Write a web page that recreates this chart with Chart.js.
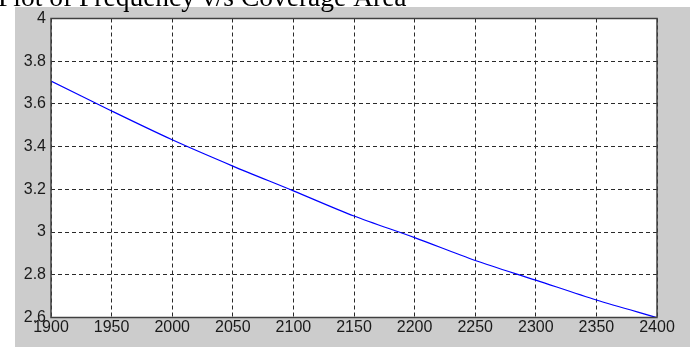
<!DOCTYPE html>
<html>
<head>
<meta charset="utf-8">
<script src="https://cdn.jsdelivr.net/npm/chart.js@4.4.1/dist/chart.umd.min.js"></script>
<style>
  html, body { margin: 0; padding: 0; background: #fff; }
  #wrap { width: 690px; height: 347px; position: relative; }
</style>
</head>
<body>
<div id="wrap"><canvas id="myChart"></canvas></div>
<script>
// frequency (x) vs coverage area (y), every 50
var titleText = "Plot of Frequency v/s Coverage Area";
var freqs = [1900, 1950, 2000, 2050, 2100, 2150, 2200, 2250, 2300, 2350, 2400];
var coverage = [3.707, 3.567, 3.432, 3.309, 3.193, 3.075, 2.974, 2.867, 2.775, 2.682, 2.600];
var xTicks = [1900, 1950, 2000, 2050, 2100, 2150, 2200, 2250, 2300, 2350, 2400];
var yTicks = [2.6, 2.8, 3, 3.2, 3.4, 3.6, 3.8, 4];

var points = [];
for (var i = 0; i < freqs.length; i++) {
  points.push({x: freqs[i], y: coverage[i]});
}

// gray figure background, white axes, clipped title on top, dark frame
var figurePlugin = {
  id: 'figure',
  beforeDraw: function(chart) {
    var ctx = chart.ctx;
    var a = chart.chartArea;
    ctx.save();
    ctx.fillStyle = '#ffffff';
    ctx.fillRect(0, 0, chart.width, chart.height);
    ctx.fillStyle = '#cccccc';
    ctx.fillRect(15, 7, chart.width - 15, chart.height - 7);
    ctx.fillStyle = '#ffffff';
    ctx.fillRect(a.left, a.top, a.right - a.left, a.bottom - a.top);
    ctx.fillStyle = '#000000';
    ctx.font = '27.5px "Liberation Serif"';
    ctx.textBaseline = 'alphabetic';
    ctx.textAlign = 'left';
    ctx.fillText(titleText, -2, 6);
    ctx.restore();
  },
  afterDraw: function(chart) {
    var ctx = chart.ctx;
    var a = chart.chartArea;
    ctx.save();
    ctx.strokeStyle = '#404040';
    ctx.lineWidth = 1.5;
    ctx.strokeRect(a.left, a.top, a.right - a.left, a.bottom - a.top);
    ctx.restore();
  }
};

var ctx = document.getElementById('myChart').getContext('2d');
var chart = new Chart(ctx, {
  type: 'line',
  data: {
    datasets: [{
      data: points,
      borderColor: '#0000ff',
      borderWidth: 1.2,
      pointRadius: 0,
      tension: 0.3,
      fill: false
    }]
  },
  options: {
    responsive: true,
    maintainAspectRatio: false,
    animation: false,
    layout: { padding: { top: 18.5, right: 33, left: 0, bottom: 0 } },
    plugins: { legend: { display: false }, tooltip: { enabled: false } },
    scales: {
      x: {
        type: 'linear',
        min: 1900,
        max: 2400,
        afterFit: function(scale) { scale.height = 29.5; },
        afterBuildTicks: function(scale) {
          scale.ticks = xTicks.map(function(v) { return {value: v}; });
        },
        ticks: {
          padding: 0,
          maxRotation: 0,
          autoSkip: false,
          color: '#1a1a1a',
          font: { family: '"Liberation Sans", Arial', size: 16 },
          callback: function(v) { return String(v); }
        },
        grid: { color: '#2a2a2a', lineWidth: 1, drawTicks: false },
        border: { display: false, dash: [4, 3] }
      },
      y: {
        type: 'linear',
        min: 2.6,
        max: 4,
        afterFit: function(scale) { scale.width = 51; },
        afterBuildTicks: function(scale) {
          scale.ticks = yTicks.map(function(v) { return {value: v}; });
        },
        ticks: {
          padding: 5,
          autoSkip: false,
          color: '#1a1a1a',
          font: { family: '"Liberation Sans", Arial', size: 16 },
          callback: function(v) { return String(parseFloat(v.toFixed(1))); }
        },
        grid: { color: '#2a2a2a', lineWidth: 1, drawTicks: false },
        border: { display: false, dash: [4, 3] }
      }
    }
  },
  plugins: [figurePlugin]
});
</script>
</body>
</html>
